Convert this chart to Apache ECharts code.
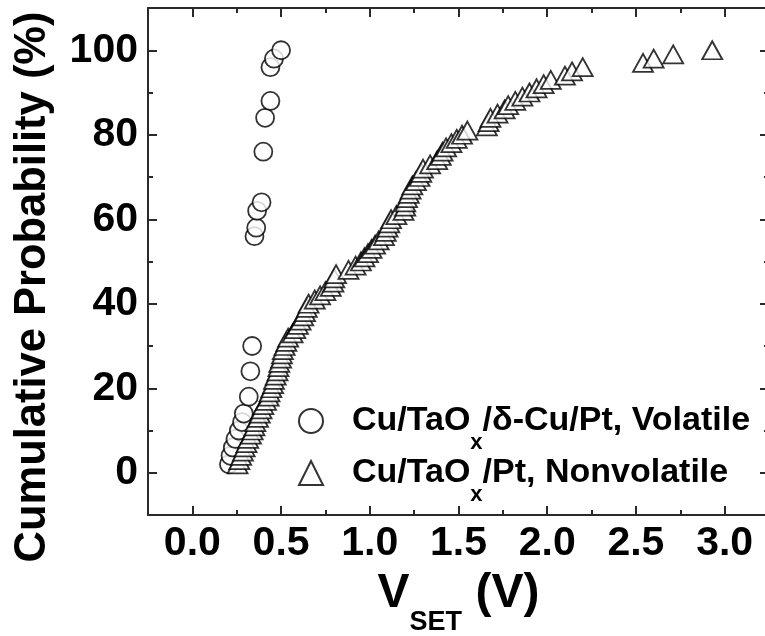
<!DOCTYPE html>
<html>
<head>
<meta charset="utf-8">
<script src="https://cdn.jsdelivr.net/npm/echarts@6/dist/echarts.min.js"></script>
<style>
  html, body { margin: 0; padding: 0; background: #fff; }
  #chart { width: 765px; height: 636px; }
</style>
</head>
<body>
<div id="chart"></div>
<script>
// Cumulative distribution of SET voltages for the two device stacks.
const volatileVolts = [0.206, 0.215, 0.228, 0.243, 0.262, 0.28, 0.29, 0.318, 0.327, 0.337,
                       0.35, 0.36, 0.365, 0.39, 0.40, 0.41, 0.44, 0.44, 0.46, 0.50];
const volatileProb  = [2, 4, 6, 8, 10, 12, 14, 18, 24, 30,
                       56, 58, 62, 64, 76, 84, 88, 96, 98, 100];

const nonvolatileVolts = [
  0.255, 0.265, 0.275, 0.285, 0.295, 0.305, 0.315, 0.33, 0.34,
  0.35, 0.355, 0.37, 0.38, 0.39, 0.40, 0.415, 0.43, 0.435, 0.445,
  0.455, 0.46, 0.47, 0.48, 0.485, 0.49, 0.50, 0.505, 0.51, 0.52,
  0.53, 0.54, 0.565, 0.58, 0.595, 0.61, 0.625, 0.635, 0.645, 0.655,
  0.69, 0.72, 0.75, 0.78, 0.795, 0.80, 0.81, 0.88, 0.92, 0.95,
  0.97, 0.99, 1.01, 1.03, 1.05, 1.08, 1.09, 1.10, 1.11, 1.12,
  1.15, 1.19, 1.20, 1.20, 1.21, 1.22, 1.23, 1.24, 1.26, 1.28,
  1.29, 1.30, 1.34, 1.38, 1.40, 1.41, 1.43, 1.46, 1.49, 1.52,
  1.55, 1.66, 1.67, 1.68, 1.72, 1.76, 1.78, 1.82, 1.86, 1.90,
  1.94, 1.98, 2.02, 2.10, 2.14, 2.20, 2.54, 2.60, 2.71, 2.93
];
const nonvolatileProb = [
  2, 3, 4, 5, 6, 7, 8, 9, 10,
  11, 12, 13, 14, 15, 16, 17, 18, 19, 20,
  21, 22, 23, 24, 25, 26, 27, 28, 29, 30,
  31, 32, 33, 34, 35, 36, 37, 38, 39, 40,
  41, 42, 43, 44, 45, 46, 47, 48, 49, 50,
  51, 52, 53, 54, 55, 56, 57, 58, 59, 60,
  61, 62, 63, 64, 65, 66, 67, 68, 69, 70,
  71, 72, 73, 74, 75, 76, 77, 78, 79, 80,
  81, 82, 83, 84, 85, 86, 87, 88, 89, 90,
  91, 92, 93, 94, 95, 96, 97, 98, 99, 100
];

const xMajorTicks = [0, 0.5, 1.0, 1.5, 2.0, 2.5, 3.0];
const xMinorTicks = [0.25, 0.75, 1.25, 1.75, 2.25, 2.75];
const yMajorTicks = [0, 20, 40, 60, 80, 100];
const yMinorTicks = [10, 30, 50, 70, 90];

const volatileName = 'Cu/TaOx/δ-Cu/Pt, Volatile';
const nonvolatileName = 'Cu/TaOx/Pt, Nonvolatile';

const FONT = '"Liberation Sans", Arial, Helvetica, sans-serif';
const INK = '#000';
const FRAME = '#2a2a2a';

const X_MIN = -0.25, X_MAX = 3.25, Y_MIN = -10, Y_MAX = 110;

function zip(xs, ys) { return xs.map((x, i) => [x, ys[i]]); }

function frameAxis(kind, position, ticks, tickLen, withLine, withLabels) {
  const isX = kind === 'x';
  return {
    type: 'value',
    position: position,
    min: isX ? X_MIN : Y_MIN,
    max: isX ? X_MAX : Y_MAX,
    axisLine: { show: withLine, onZero: false, lineStyle: { color: FRAME, width: 2 } },
    axisTick: { show: true, inside: true, length: tickLen, customValues: ticks,
                lineStyle: { color: FRAME, width: 2 } },
    axisLabel: withLabels ? {
      show: true, customValues: ticks, color: INK,
      fontFamily: FONT, fontWeight: 'bold', fontSize: 41,
      margin: isX ? 8 : 10,
      formatter: isX ? (v => v.toFixed(1)) : (v => String(v))
    } : { show: false },
    splitLine: { show: false },
    minorTick: { show: false }
  };
}

const xAxes = [
  frameAxis('x', 'bottom', xMajorTicks, 9, true, true),
  frameAxis('x', 'bottom', xMinorTicks, 5, false, false),
  frameAxis('x', 'top', xMajorTicks, 9, true, false),
  frameAxis('x', 'top', xMinorTicks, 5, false, false)
];
xAxes[0].name = '{v|V}{s|SET}{v| (V)}';
xAxes[0].nameLocation = 'middle';
xAxes[0].nameGap = 36;
xAxes[0].nameTextStyle = {
  color: INK, fontFamily: FONT, fontWeight: 'bold',
  rich: {
    v: { fontSize: 48, fontWeight: 'bold', fontFamily: FONT, color: INK },
    s: { fontSize: 27, fontWeight: 'bold', fontFamily: FONT, color: INK, padding: [58, 0, 0, 0] }
  }
};

const yAxes = [
  frameAxis('y', 'left', yMajorTicks, 9, true, true),
  frameAxis('y', 'left', yMinorTicks, 5, false, false),
  frameAxis('y', 'right', yMajorTicks, 9, true, false),
  frameAxis('y', 'right', yMinorTicks, 5, false, false)
];

const legendRich = {
  m: { fontSize: 34, fontWeight: 'bold', fontFamily: FONT, color: INK, padding: [0, 0, 0, 24] },
  n: { fontSize: 34, fontWeight: 'bold', fontFamily: FONT, color: INK },
  s: { fontSize: 22, fontWeight: 'bold', fontFamily: FONT, color: INK, padding: [44, 0, 0, 0] }
};
function legendLabel(name) {
  if (name === volatileName) return '{m|Cu/TaO}{s|x}{n|/δ-Cu/Pt, Volatile}';
  return '{m|Cu/TaO}{s|x}{n|/Pt, Nonvolatile}';
}
function legendRow(name, top) {
  return {
    data: [name], orient: 'vertical', left: 298, top: top, padding: 0,
    itemWidth: 24, itemHeight: 24, selectedMode: false,
    formatter: legendLabel,
    textStyle: { rich: legendRich }
  };
}

const markerStyle = { color: '#fff', borderColor: '#000', borderWidth: 1.8 };

const chart = echarts.init(document.getElementById('chart'), null, { renderer: 'canvas' });
chart.setOption({
  animation: false,
  backgroundColor: '#fff',
  grid: { left: 148, top: 8, width: 621, height: 507, containLabel: false, outerBoundsMode: 'none' },
  xAxis: xAxes,
  yAxis: yAxes,
  legend: [legendRow(volatileName, 404), legendRow(nonvolatileName, 456)],
  graphic: [{
    type: 'text', x: 33, y: 287, rotation: Math.PI / 2,
    style: {
      text: 'Cumulative Probability (%)', fill: INK,
      fontFamily: FONT, fontWeight: 'bold', fontSize: 43.5,
      align: 'center', verticalAlign: 'middle'
    }
  }],
  series: [
    {
      name: volatileName, type: 'scatter', xAxisIndex: 0, yAxisIndex: 0,
      symbol: 'circle', symbolSize: 18, itemStyle: markerStyle,
      emphasis: { disabled: true },
      data: zip(volatileVolts, volatileProb)
    },
    {
      name: nonvolatileName, type: 'scatter', xAxisIndex: 0, yAxisIndex: 0,
      symbol: 'triangle', symbolSize: [20, 18], itemStyle: markerStyle,
      emphasis: { disabled: true },
      data: zip(nonvolatileVolts, nonvolatileProb)
    }
  ]
});
</script>
</body>
</html>
